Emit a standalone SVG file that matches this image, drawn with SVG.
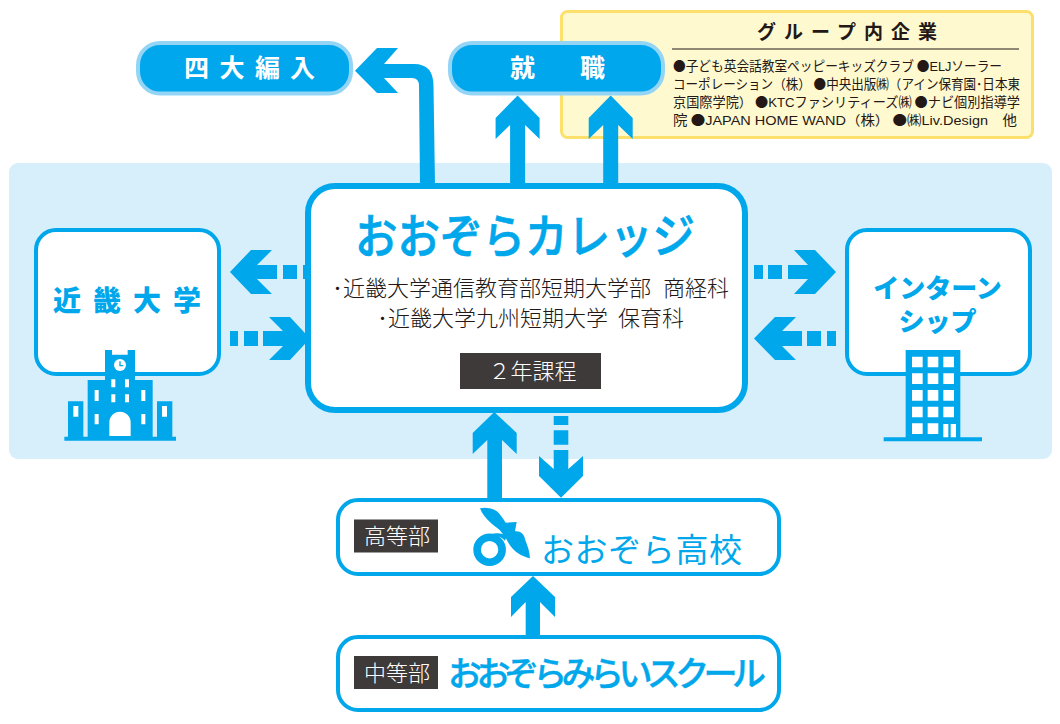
<svg xmlns="http://www.w3.org/2000/svg" width="1060" height="724" viewBox="0 0 1060 724">
<style>
text{font-family:"Noto Sans CJK JP","Noto Sans",sans-serif}
.box{fill:#fff;stroke:#00a7eb;stroke-width:4}
.pill{fill:#00a7ed;stroke:#94d5f6;stroke-width:4}
.blue{fill:#00a7eb}
.white{fill:#fff}
.dark{fill:#3e3a39}
.pilltext{fill:#fff;font-size:25px;font-weight:700}
.nodetext{fill:#00a7eb;font-weight:900;text-anchor:middle}
.body{fill:#231815;font-size:22px;font-weight:300}
.tag{fill:#fff;font-size:22px;font-weight:300;text-anchor:middle}
.small{fill:#231815;font-size:13.4px;font-weight:400}
.latin{font-family:"Liberation Sans",sans-serif}
</style>
<rect id="campus-band" x="9" y="163" width="1043" height="296" rx="9" fill="#d7eefb"/>

<g id="group-companies">
<rect x="561.5" y="11.5" width="471" height="126" rx="6" fill="#fff9d0" stroke="#fde06b" stroke-width="3"/>
<text x="757" y="39" font-size="19" font-weight="700" fill="#231815" textLength="180" lengthAdjust="spacing">グループ内企業</text>
<rect x="672" y="48.5" width="347" height="1" fill="#231815"/>
<text class="small" x="673" y="71" textLength="329" lengthAdjust="spacingAndGlyphs">●子ども英会話教室ペッピーキッズクラブ ●<tspan class="latin">ELJ</tspan>ソーラー</text>
<text class="small" x="673" y="89" textLength="347" lengthAdjust="spacingAndGlyphs">コーポレーション（株） ●中央出版㈱（アイン保育園･日本東</text>
<text class="small" x="673" y="107" textLength="347" lengthAdjust="spacingAndGlyphs">京国際学院） ●<tspan class="latin">KTC</tspan>ファシリティーズ㈱ ●ナビ個別指導学</text>
<text class="small" x="673" y="125" textLength="344" lengthAdjust="spacingAndGlyphs">院 ●<tspan class="latin">JAPAN HOME WAND</tspan>（株） ●㈱<tspan class="latin">Liv.Design</tspan>　他</text>
</g>

<g id="connectors" class="blue">
<path d="M355 70.7L377 48H398L384 64H414Q433.5 64 433.5 86L435 185H420L419 86Q419 78 412 78H384L398 93H377Z"/>
<path id="to-job-1" d="M517.6 95.5L539.6 118V139L525.1 125V185H510.1V125L495.6 139V118Z"/>
<path id="to-job-2" d="M610.7 95.5L632.7 118V139L618.2 125V185H603.2V125L588.7 139V118Z"/>
<path id="college-to-kindai" d="M230 272L251 250H272L257 265H277V279H257L272 294H251Z M283 265H297V279H283Z M303 265H312V279H303Z"/>
<path id="kindai-to-college" d="M310 338.5L290 317H269L283 331H263V346H283L269 360H290Z M244 331H258V346H244Z M230 331H238V346H230Z"/>
<path id="college-to-intern" d="M836 272L815 250H794L808 265H788V279H808L794 294H815Z M768 265H782V279H768Z M754 265H763V279H754Z"/>
<path id="intern-to-college" d="M754 338.5L775 317H796L782 331H802V346H782L796 360H775Z M807 331H821V346H807Z M827 331H836V346H827Z"/>
<path id="high-to-college" d="M494.3 412L516.7 433V454L502 440V500H487.3V440L472.7 454V433Z"/>
<path id="college-to-high" d="M561 497.7L539 476V456L553.7 469V450H568.3V469L583 456V476Z M553.7 430.3H568.3V444.7H553.7Z M553.7 416H568.3V425H553.7Z"/>
<path id="middle-to-high" d="M533 576L555 597V617L540 602V636H525.7V602L511 617V597Z"/>
</g>

<g id="node-yondai">
<rect class="pill" x="138" y="43" width="213" height="50.5" rx="22"/>
<text class="pilltext" x="184" y="77">四</text><text class="pilltext" x="219.500" y="77">大</text><text class="pilltext" x="255" y="77">編</text><text class="pilltext" x="290" y="77">入</text>
</g>
<g id="node-shushoku">
<rect class="pill" x="450" y="43" width="213" height="50.5" rx="22"/>
<text class="pilltext" x="510" y="77">就</text><text class="pilltext" x="580" y="77">職</text>
</g>

<g id="node-college">
<rect x="308" y="186" width="437" height="224" rx="27" fill="#fff" stroke="#00a7eb" stroke-width="6"/>
<text x="355" y="253" font-size="47" font-weight="500" fill="#00a7eb" stroke="#00a7eb" stroke-width=".7" textLength="340" lengthAdjust="spacingAndGlyphs">おおぞらカレッジ</text>
<text class="body" y="296"><tspan x="332">･</tspan><tspan x="343">近畿大学通信教育部短期大学部</tspan><tspan x="663">商経科</tspan></text>
<text class="body" y="326"><tspan x="377">･</tspan><tspan x="388">近畿大学九州短期大学</tspan><tspan x="618">保育科</tspan></text>
<rect class="dark" x="460" y="353" width="141" height="36"/>
<text class="tag" x="532.500" y="379">２年課程</text>
</g>

<g id="node-kindai">
<rect class="box" x="36" y="230" width="183" height="144" rx="20"/>
<text class="nodetext" font-size="28" y="311"><tspan x="67">近</tspan><tspan x="107">畿</tspan><tspan x="147">大</tspan><tspan x="187">学</tspan></text>
<g transform="translate(20 220) scale(.33333)">
<path class="blue" d="M255 390H276V404H323V390H345V480H398V650H411V544H457V650H468V662H133V650H144V544H190V650H203V480H255Z"/>
<path class="white" d="M160 558H175V590H160ZM426 558H441V590H426ZM274 478H286V502H274ZM315 478H327V502H315ZM274 523H286V547H274ZM315 523H327V547H315ZM224 510H236V543H224ZM364 510H376V543H364ZM224 582H236V613H224ZM364 582H376V613H364ZM268 648V607A32 32 0 0 1 332 607V648Z"/>
<circle class="white" cx="300" cy="435" r="18"/>
<path d="M300 424V437H310" fill="none" stroke="#00a7eb" stroke-width="4"/>
</g>
</g>

<g id="node-intern">
<rect class="box" x="847" y="230" width="183" height="144" rx="20"/>
<text class="nodetext" font-size="26"><tspan x="937.500" y="298">インターン</tspan><tspan x="937.500" y="331">シップ</tspan></text>
<g transform="translate(740 220) scale(.33333)">
<path class="blue" d="M497 390H661V652H726V664H431V652H497Z"/>
<path class="white" d="M516 410h32v32h-32zM563 410h32v32h-32zM610 410h32v32h-32zM516 460h32v32h-32zM563 460h32v32h-32zM610 460h32v32h-32zM516 510h32v32h-32zM563 510h32v32h-32zM610 510h32v32h-32zM516 560h32v32h-32zM563 560h32v32h-32zM610 560h32v32h-32zM516 610h32v32h-32zM563 610h32v32h-32zM610 612h15v40h-15zM632 612h16v40h-16z"/>
</g>
</g>

<g id="node-high">
<rect class="box" x="338" y="500" width="441" height="74" rx="20"/>
<rect class="dark" x="354" y="519.500" width="84" height="33"/>
<text class="tag" x="397" y="544">高等部</text>
<circle cx="489.600" cy="549.700" r="12.500" fill="none" stroke="#00a7eb" stroke-width="7.600"/>
<path class="blue" transform="translate(465 500) scale(.33333)" d="M45 25C60 20 88 24 102 40C110 50 116 58 122 68L155 66L150 94C166 92 178 102 180 118C188 138 194 156 195 175C170 168 146 156 130 128C122 112 114 102 104 90C85 75 58 58 45 25Z M75 104C95 98 112 98 124 110L120 122C108 110 100 108 95 112Z"/>
<text x="541" y="562" font-size="33" font-weight="400" fill="#00a7eb" textLength="201" lengthAdjust="spacing">おおぞら高校</text>
</g>

<g id="node-middle">
<rect class="box" x="338" y="637" width="441" height="73" rx="20"/>
<rect class="dark" x="354" y="656" width="84" height="33"/>
<text class="tag" x="397" y="681">中等部</text>
<text x="448" y="686" font-size="34" font-weight="500" fill="#00a7eb" stroke="#00a7eb" stroke-width=".4" letter-spacing="-5.600">おおぞらみらいスクール</text>
</g>
</svg>
